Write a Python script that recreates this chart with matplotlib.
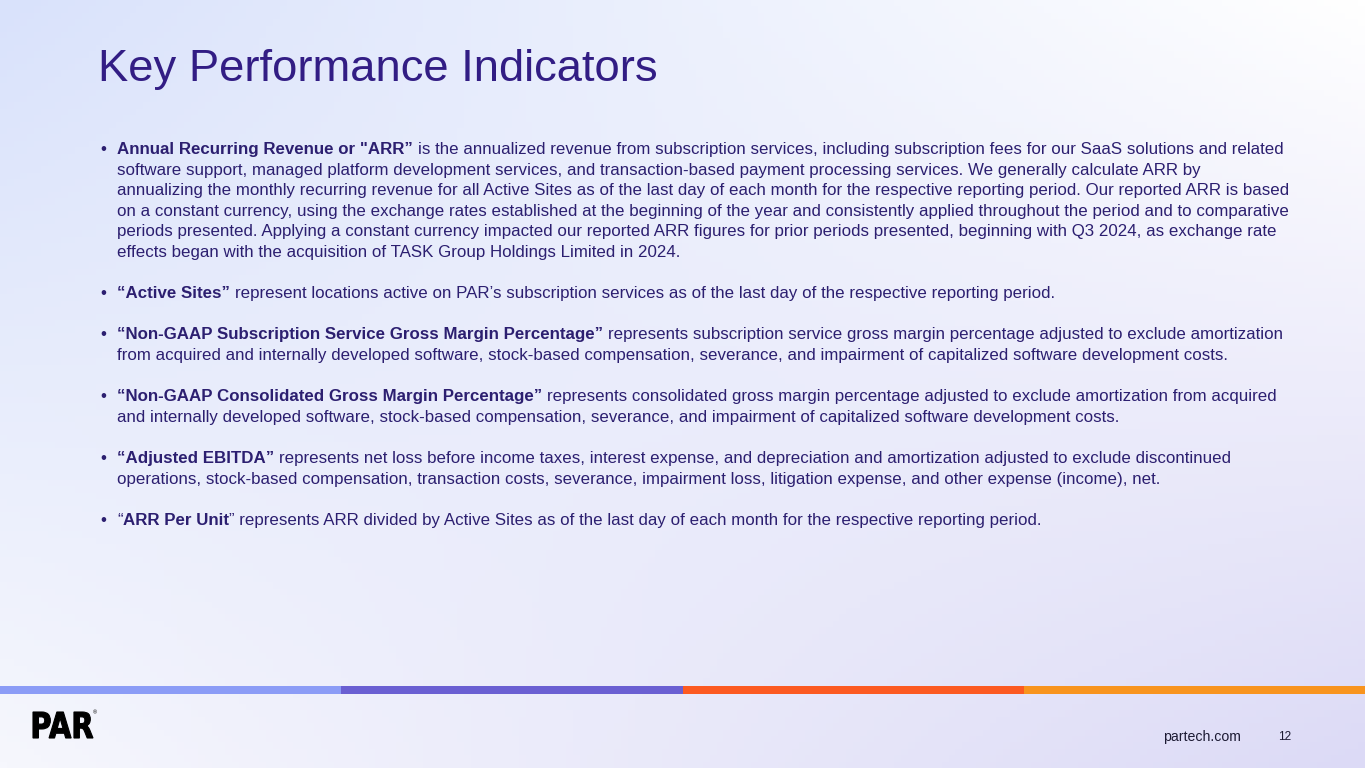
import numpy as np
import matplotlib.pyplot as plt
from matplotlib.patches import Rectangle, PathPatch
from matplotlib.textpath import TextPath
from matplotlib.font_manager import FontProperties
from matplotlib.transforms import Affine2D

W, H = 1365, 768

title = "Key Performance Indicators"

# each bullet: list of lines, each line a list of (text, bold) runs
bullets = [
    [
        [('Annual Recurring Revenue or "ARR\u201d', True),
         (" is the annualized revenue from subscription services, including subscription fees for our SaaS solutions and related", False)],
        [("software support, managed platform development services, and transaction-based payment processing services. We generally calculate ARR by", False)],
        [("annualizing the monthly recurring revenue for all Active Sites as of the last day of each month for the respective reporting period. Our reported ARR is based", False)],
        [("on a constant currency, using the exchange rates established at the beginning of the year and consistently applied throughout the period and to comparative", False)],
        [("periods presented. Applying a constant currency impacted our reported ARR figures for prior periods presented, beginning with Q3 2024, as exchange rate", False)],
        [("effects began with the acquisition of TASK Group Holdings Limited in 2024.", False)],
    ],
    [
        [("\u201cActive Sites\u201d", True),
         (" represent locations active on PAR\u2019s subscription services as of the last day of the respective reporting period.", False)],
    ],
    [
        [("\u201cNon-GAAP Subscription Service Gross Margin Percentage\u201d", True),
         (" represents subscription service gross margin percentage adjusted to exclude amortization", False)],
        [("from acquired and internally developed software, stock-based compensation, severance, and impairment of capitalized software development costs.", False)],
    ],
    [
        [("\u201cNon-GAAP Consolidated Gross Margin Percentage\u201d", True),
         (" represents consolidated gross margin percentage adjusted to exclude amortization from acquired", False)],
        [("and internally developed software, stock-based compensation, severance, and impairment of capitalized software development costs.", False)],
    ],
    [
        [("\u201cAdjusted EBITDA\u201d", True),
         (" represents net loss before income taxes, interest expense, and depreciation and amortization adjusted to exclude discontinued", False)],
        [("operations, stock-based compensation, transaction costs, severance, impairment loss, litigation expense, and other expense (income), net.", False)],
    ],
    [
        [("\u201c", False), ("ARR Per Unit", True),
         ("\u201d represents ARR divided by Active Sites as of the last day of each month for the respective reporting period.", False)],
    ],
]

bar_colors = ["#8b9cf6", "#6a5fd2", "#fc5a22", "#f8941e"]
footer_site = "partech.com"
page_no = "12"

FONT = "Liberation Sans"
TXT = "#2c1f70"
TITLE_C = "#321d84"

fig = plt.figure(figsize=(W / 100, H / 100), dpi=100)
ax = fig.add_axes([0, 0, 1, 1])
ax.set_xlim(0, W)
ax.set_ylim(H, 0)
ax.axis("off")

# background: soft corner gradient (blue top-left, white top-right, lavender bottom-right)
tl = np.array([0xd9, 0xe2, 0xfb]) / 255
tr = np.array([0xff, 0xff, 0xff]) / 255
bl = np.array([0xf6, 0xf7, 0xfd]) / 255
br = np.array([0xdc, 0xda, 0xf6]) / 255
gx = np.linspace(0, 1, 200)[None, :, None]
gy = np.linspace(0, 1, 120)[:, None, None]
bg = (1 - gy) * ((1 - gx) * tl + gx * tr) + gy * ((1 - gx) * bl + gx * br)
ax.imshow(bg, extent=[0, W, H, 0], aspect="auto", zorder=0)

ax.text(98, 81, title, fontsize=32.7, family=FONT, color=TITLE_C, va="baseline")

fig.canvas.draw()
renderer = fig.canvas.get_renderer()
FS = 12.2


def width_of(s, bold):
    t = ax.text(0, 0, s, fontsize=FS, family=FONT, fontweight="bold" if bold else "normal")
    w = t.get_window_extent(renderer).width
    t.remove()
    return w


space_w = {b: width_of("a a", b) - width_of("aa", b) for b in (False, True)}


def draw_runs(x, y, runs):
    for s, bold in runs:
        lead = len(s) - len(s.lstrip(" "))
        s2 = s.strip(" ")
        x += lead * space_w[bold]
        t = ax.text(x, y, s2, fontsize=FS, family=FONT, color=TXT, va="baseline",
                    fontweight="bold" if bold else "normal")
        x += t.get_window_extent(renderer).width
        x += (len(s) - len(s.rstrip(" "))) * space_w[bold] if s2 else 0


y0, step = 154, 20.6
row = 0
for para in bullets:
    ax.text(100, y0 + row * step, "\u2022", fontsize=FS, family=FONT, color=TXT, va="baseline")
    for line in para:
        draw_runs(117, y0 + row * step, line)
        row += 1
    row += 1

# colour strip
edges = np.linspace(0, W, len(bar_colors) + 1)
for i, c in enumerate(bar_colors):
    ax.add_patch(Rectangle((edges[i], 686), edges[i + 1] - edges[i], 8, color=c, lw=0, zorder=2))

# logo
tp = TextPath((0, 0), "PAR", size=1, prop=FontProperties(family="DejaVu Sans", weight="bold"))
ext = tp.get_extents()
sx = 60 / ext.width
sy = 26 / ext.height
tr_logo = Affine2D().translate(-ext.x0, -ext.y0).scale(sx, -sy).translate(33, 738)
ax.add_patch(PathPatch(tr_logo.transform_path(tp), color="black", lw=0.8, zorder=3))
ax.text(93, 713, "\u00ae", fontsize=4, family=FONT, color="black", va="center")

ax.text(1163, 741, footer_site, fontsize=10.2, family=FONT, color="#1c1a33", va="baseline")
ax.text(1278, 740, page_no, fontsize=8.6, family=FONT, color="#1c1a33", va="baseline")

fig.savefig("out.png", dpi=100)
